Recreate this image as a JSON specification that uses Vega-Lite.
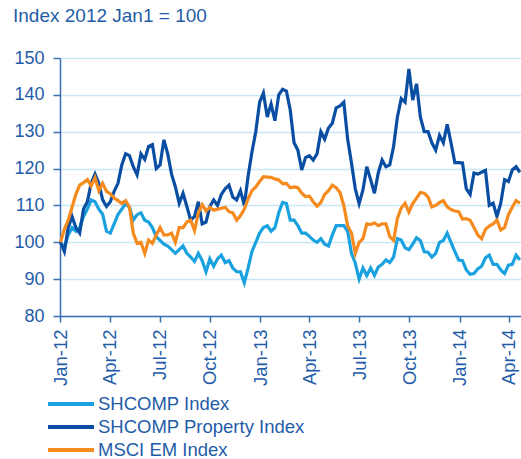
{
"$schema":"https://vega.github.io/schema/vega-lite/v6.json",
"width":461,"height":258,
"autosize":{"type":"none"},
"padding":{"left":60,"top":58,"right":0,"bottom":143},
"title":{"text":"Index 2012 Jan1 = 100","anchor":"start","frame":"group","orient":"top","dx":-47,"dy":27,"offset":35,"baseline":"alphabetic","fontSize":19,"font":"Liberation Sans","fontWeight":"normal","color":"#1f5ca8"},
"data":{"values":[
{"date":"2012-01-02","shcomp":100,"property":100,"msciem":100},
{"date":"2012-01-09","shcomp":98.5,"property":97.5,"msciem":103.5},
{"date":"2012-01-16","shcomp":102,"property":104,"msciem":106},
{"date":"2012-01-23","shcomp":104,"property":107,"msciem":109.5},
{"date":"2012-01-30","shcomp":103,"property":104,"msciem":113},
{"date":"2012-02-06","shcomp":104,"property":102.5,"msciem":115.5},
{"date":"2012-02-13","shcomp":107,"property":109,"msciem":116.2},
{"date":"2012-02-20","shcomp":109,"property":111,"msciem":117},
{"date":"2012-02-27","shcomp":111.5,"property":116,"msciem":115.3},
{"date":"2012-03-05","shcomp":111,"property":118.5,"msciem":117.5},
{"date":"2012-03-12","shcomp":109,"property":116,"msciem":114},
{"date":"2012-03-19","shcomp":107.6,"property":111.5,"msciem":116},
{"date":"2012-03-26","shcomp":103,"property":109.7,"msciem":113.8},
{"date":"2012-04-02","shcomp":102.5,"property":111,"msciem":113.2},
{"date":"2012-04-09","shcomp":105,"property":113.8,"msciem":112},
{"date":"2012-04-16","shcomp":107.5,"property":116,"msciem":111.3},
{"date":"2012-04-23","shcomp":109,"property":121,"msciem":110.5},
{"date":"2012-04-30","shcomp":110.5,"property":124,"msciem":111.3},
{"date":"2012-05-07","shcomp":109.5,"property":123.5,"msciem":109.5},
{"date":"2012-05-14","shcomp":106,"property":120.5,"msciem":102.5},
{"date":"2012-05-21","shcomp":107.5,"property":118.3,"msciem":99.7},
{"date":"2012-05-28","shcomp":108,"property":124,"msciem":100},
{"date":"2012-06-04","shcomp":106,"property":122.5,"msciem":97},
{"date":"2012-06-11","shcomp":105.5,"property":126,"msciem":100.6},
{"date":"2012-06-18","shcomp":104,"property":126.5,"msciem":99.7},
{"date":"2012-06-25","shcomp":101.5,"property":120,"msciem":102},
{"date":"2012-07-02","shcomp":100.5,"property":121,"msciem":104},
{"date":"2012-07-09","shcomp":99.5,"property":127.8,"msciem":102},
{"date":"2012-07-16","shcomp":99,"property":124,"msciem":102},
{"date":"2012-07-23","shcomp":98,"property":118.5,"msciem":102.5},
{"date":"2012-07-30","shcomp":97,"property":115,"msciem":100},
{"date":"2012-08-06","shcomp":98,"property":110.6,"msciem":104},
{"date":"2012-08-13","shcomp":99,"property":113.3,"msciem":104},
{"date":"2012-08-20","shcomp":97,"property":109.7,"msciem":105.5},
{"date":"2012-08-27","shcomp":96,"property":106,"msciem":106},
{"date":"2012-09-03","shcomp":94.8,"property":107,"msciem":103.2},
{"date":"2012-09-10","shcomp":97,"property":111,"msciem":108},
{"date":"2012-09-17","shcomp":95,"property":105,"msciem":110.2},
{"date":"2012-09-24","shcomp":92,"property":105.5,"msciem":108.5},
{"date":"2012-10-01","shcomp":95.5,"property":109.7,"msciem":109.5},
{"date":"2012-10-08","shcomp":93.5,"property":111.5,"msciem":108.7},
{"date":"2012-10-15","shcomp":95.5,"property":110,"msciem":109},
{"date":"2012-10-22","shcomp":96.5,"property":113,"msciem":109.2},
{"date":"2012-10-29","shcomp":94.5,"property":114.5,"msciem":109.5},
{"date":"2012-11-05","shcomp":95,"property":115.5,"msciem":108.3},
{"date":"2012-11-12","shcomp":93,"property":112.3,"msciem":108},
{"date":"2012-11-19","shcomp":92,"property":111.5,"msciem":106},
{"date":"2012-11-26","shcomp":92,"property":114,"msciem":107.2},
{"date":"2012-12-03","shcomp":89,"property":110,"msciem":109},
{"date":"2012-12-10","shcomp":93,"property":118,"msciem":111.8},
{"date":"2012-12-17","shcomp":97.5,"property":124.5,"msciem":114},
{"date":"2012-12-24","shcomp":100,"property":130,"msciem":115},
{"date":"2012-12-31","shcomp":102.5,"property":138,"msciem":116.5},
{"date":"2013-01-07","shcomp":104,"property":140.5,"msciem":117.8},
{"date":"2013-01-14","shcomp":104.5,"property":134,"msciem":117.7},
{"date":"2013-01-21","shcomp":103,"property":137.5,"msciem":117.6},
{"date":"2013-01-28","shcomp":104,"property":133,"msciem":117.2},
{"date":"2013-02-04","shcomp":108,"property":140,"msciem":116.9},
{"date":"2013-02-11","shcomp":110.8,"property":141.5,"msciem":115.9},
{"date":"2013-02-18","shcomp":110.5,"property":141,"msciem":116},
{"date":"2013-02-25","shcomp":106,"property":135.9,"msciem":114.8},
{"date":"2013-03-04","shcomp":106,"property":127,"msciem":115},
{"date":"2013-03-11","shcomp":104.5,"property":125,"msciem":114.8},
{"date":"2013-03-18","shcomp":102.5,"property":119.6,"msciem":113.3},
{"date":"2013-03-25","shcomp":102.5,"property":123,"msciem":112.4},
{"date":"2013-04-01","shcomp":101.6,"property":123.5,"msciem":112.5},
{"date":"2013-04-08","shcomp":100.6,"property":122.3,"msciem":111},
{"date":"2013-04-15","shcomp":100,"property":124,"msciem":109.8},
{"date":"2013-04-22","shcomp":101,"property":130,"msciem":110.8},
{"date":"2013-04-29","shcomp":99.5,"property":128,"msciem":113},
{"date":"2013-05-06","shcomp":99,"property":131,"msciem":114},
{"date":"2013-05-13","shcomp":102,"property":132.3,"msciem":115.5},
{"date":"2013-05-20","shcomp":104.5,"property":136.5,"msciem":114.8},
{"date":"2013-05-27","shcomp":104.5,"property":137,"msciem":113.5},
{"date":"2013-06-03","shcomp":104.5,"property":138,"msciem":110},
{"date":"2013-06-10","shcomp":103,"property":128,"msciem":104.5},
{"date":"2013-06-17","shcomp":97,"property":121.5,"msciem":102.5},
{"date":"2013-06-24","shcomp":94.3,"property":114.5,"msciem":97},
{"date":"2013-07-01","shcomp":90,"property":110.5,"msciem":100},
{"date":"2013-07-08","shcomp":93,"property":114.2,"msciem":101},
{"date":"2013-07-15","shcomp":91,"property":120.5,"msciem":105},
{"date":"2013-07-22","shcomp":93,"property":117,"msciem":104.8},
{"date":"2013-07-29","shcomp":91,"property":113.3,"msciem":105.3},
{"date":"2013-08-05","shcomp":93.3,"property":118.8,"msciem":104.5},
{"date":"2013-08-12","shcomp":94,"property":122.3,"msciem":105},
{"date":"2013-08-19","shcomp":95.2,"property":120.5,"msciem":105},
{"date":"2013-08-26","shcomp":94.5,"property":121,"msciem":101.5},
{"date":"2013-09-02","shcomp":96,"property":126,"msciem":100.5},
{"date":"2013-09-09","shcomp":101,"property":134,"msciem":106.5},
{"date":"2013-09-16","shcomp":100.6,"property":139,"msciem":109.3},
{"date":"2013-09-23","shcomp":98.5,"property":138,"msciem":110.6},
{"date":"2013-09-30","shcomp":98,"property":147,"msciem":108.2},
{"date":"2013-10-07","shcomp":99.5,"property":138.6,"msciem":110.5},
{"date":"2013-10-14","shcomp":101.2,"property":143,"msciem":112},
{"date":"2013-10-21","shcomp":100.5,"property":134,"msciem":113.5},
{"date":"2013-10-28","shcomp":97.4,"property":130,"msciem":113.3},
{"date":"2013-11-04","shcomp":97.3,"property":130,"msciem":112.3},
{"date":"2013-11-11","shcomp":96,"property":127,"msciem":109.6},
{"date":"2013-11-18","shcomp":97,"property":125,"msciem":110},
{"date":"2013-11-25","shcomp":100,"property":129,"msciem":110.8},
{"date":"2013-12-02","shcomp":100.5,"property":127,"msciem":111.3},
{"date":"2013-12-09","shcomp":102.5,"property":132,"msciem":109.6},
{"date":"2013-12-16","shcomp":100,"property":127,"msciem":108.9},
{"date":"2013-12-23","shcomp":97.5,"property":121.6,"msciem":108.5},
{"date":"2013-12-30","shcomp":95.2,"property":121.6,"msciem":108.3},
{"date":"2014-01-06","shcomp":95,"property":121.5,"msciem":106.3},
{"date":"2014-01-13","shcomp":92.5,"property":114.5,"msciem":106.4},
{"date":"2014-01-20","shcomp":91.3,"property":113,"msciem":106},
{"date":"2014-01-27","shcomp":91.5,"property":118.8,"msciem":104},
{"date":"2014-02-03","shcomp":92.8,"property":118.5,"msciem":102},
{"date":"2014-02-10","shcomp":93.5,"property":119,"msciem":101},
{"date":"2014-02-17","shcomp":95.8,"property":119.5,"msciem":103.5},
{"date":"2014-02-24","shcomp":96.5,"property":110,"msciem":104.4},
{"date":"2014-03-03","shcomp":94,"property":110.6,"msciem":105},
{"date":"2014-03-10","shcomp":94,"property":107,"msciem":106},
{"date":"2014-03-17","shcomp":92.5,"property":110.6,"msciem":103.3},
{"date":"2014-03-24","shcomp":91.5,"property":117,"msciem":104},
{"date":"2014-03-31","shcomp":93.8,"property":116.5,"msciem":107.5},
{"date":"2014-04-07","shcomp":94,"property":119.6,"msciem":109.5},
{"date":"2014-04-14","shcomp":96.5,"property":120.5,"msciem":111.3},
{"date":"2014-04-21","shcomp":95.2,"property":119,"msciem":110.6}
]},
"encoding":{"x":{"field":"date","type":"temporal","scale":{"domain":["2012-01-01","2014-04-23"]},"axis":{"title":null,"format":"%b-%y","tickCount":{"interval":"month","step":3},"labelAngle":-90,"labelFontSize":18.5,"labelColor":"#1f5ca8","labelFont":"Liberation Sans","labelPadding":7,"tickSize":6,"tickColor":"#3c6eb4","domainColor":"#3c6eb4","domainWidth":1.5,"tickWidth":1.5,"grid":false,"labelOverlap":false,"labelFlush":false}}},
"layer":[
{"mark":{"type":"line","strokeWidth":3.2},"encoding":{
 "y":{"field":"shcomp","type":"quantitative","scale":{"domain":[80,150]},"axis":{"title":null,"values":[80,90,100,110,120,130,140,150],"labelOverlap":false,"labelFontSize":18,"labelColor":"#1f5ca8","labelFont":"Liberation Sans","labelPadding":9,"tickSize":7,"tickColor":"#3c6eb4","tickWidth":1.5,"domainColor":"#3c6eb4","domainWidth":1.5,"gridColor":"#c8e7f7","gridWidth":1.5}},
 "color":{"datum":"SHCOMP Index","type":"nominal","scale":{"domain":["SHCOMP Index","SHCOMP Property Index","MSCI EM Index"],"range":["#1aa1df","#0a4ea3","#f58a1f"]},"legend":{"orient":"none","legendX":-1,"legendY":334,"direction":"vertical","title":null,"symbolType":"M-2.3,0H2.3","symbolSize":400,"symbolStrokeWidth":4,"symbolFillColor":"transparent","labelFontSize":18.5,"labelColor":"#1f5ca8","labelFont":"Liberation Sans","labelOffset":15,"labelLimit":400,"rowPadding":1,"padding":0}}}},
{"mark":{"type":"line","strokeWidth":3.2},"encoding":{
 "y":{"field":"property","type":"quantitative","axis":{"title":null,"values":[80,90,100,110,120,130,140,150],"labelOverlap":false,"labelFontSize":18,"labelColor":"#1f5ca8","labelFont":"Liberation Sans","labelPadding":9,"tickSize":7,"tickColor":"#3c6eb4","tickWidth":1.5,"domainColor":"#3c6eb4","domainWidth":1.5,"gridColor":"#c8e7f7","gridWidth":1.5}},
 "color":{"datum":"SHCOMP Property Index","type":"nominal"}}},
{"mark":{"type":"line","strokeWidth":3.2},"encoding":{
 "y":{"field":"msciem","type":"quantitative","axis":{"title":null,"values":[80,90,100,110,120,130,140,150],"labelOverlap":false,"labelFontSize":18,"labelColor":"#1f5ca8","labelFont":"Liberation Sans","labelPadding":9,"tickSize":7,"tickColor":"#3c6eb4","tickWidth":1.5,"domainColor":"#3c6eb4","domainWidth":1.5,"gridColor":"#c8e7f7","gridWidth":1.5}},
 "color":{"datum":"MSCI EM Index","type":"nominal"}}}
],
"config":{"view":{"stroke":null},"font":"Liberation Sans"}
}
